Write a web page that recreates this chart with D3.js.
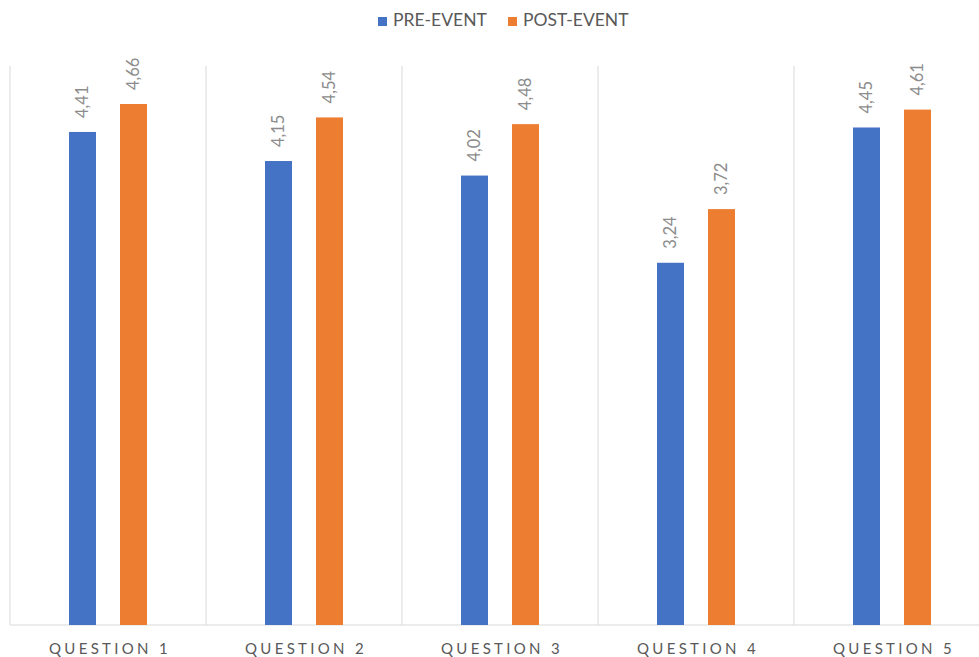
<!DOCTYPE html>
<html>
<head>
<meta charset="utf-8">
<title>Pre/Post event</title>
<script src="https://d3js.org/d3.v7.min.js"></script>
<style>
  body { margin: 0; padding: 0; background: #fff; }
  text { font-family: Lato, "Open Sans", sans-serif; }
</style>
</head>
<body>
<div id="chart"></div>
<script>
var questions = ["QUESTION 1", "QUESTION 2", "QUESTION 3", "QUESTION 4", "QUESTION 5"];
var seriesNames = ["PRE-EVENT", "POST-EVENT"];
var preValues = [4.41, 4.15, 4.02, 3.24, 4.45];
var postValues = [4.66, 4.54, 4.48, 3.72, 4.61];
var colors = ["#4472c4", "#ed7d31"];

var width = 979, height = 657;
var margin = {top: 66, left: 10, bottom: 32};

var svg = d3.select("#chart").append("svg")
  .attr("width", width)
  .attr("height", height);

var x = d3.scaleBand()
  .domain(questions)
  .range([margin.left, margin.left + 196 * questions.length])
  .paddingInner(0);

var xSub = d3.scaleBand()
  .domain(seriesNames)
  .range([59, 137])
  .paddingInner(0.4706);

var y = d3.scaleLinear()
  .domain([0, 5])
  .range([625, 66]);

// vertical gridlines at category boundaries
var bounds = questions.map(function(q) { return x(q); });
bounds.push(x(questions[questions.length - 1]) + x.bandwidth());
svg.append("g").selectAll("line")
  .data(bounds)
  .enter().append("line")
    .attr("x1", function(d) { return d; })
    .attr("x2", function(d) { return d; })
    .attr("y1", 66)
    .attr("y2", 625)
    .attr("stroke", "#d9d9d9")
    .attr("stroke-width", 1);

// baseline
svg.append("line")
  .attr("x1", margin.left).attr("x2", width)
  .attr("y1", 625).attr("y2", 625)
  .attr("stroke", "#d9d9d9");

var rows = [];
questions.forEach(function(q, i) {
  rows.push({q: q, s: seriesNames[0], v: preValues[i], c: colors[0]});
  rows.push({q: q, s: seriesNames[1], v: postValues[i], c: colors[1]});
});

svg.append("g").selectAll("rect")
  .data(rows)
  .enter().append("rect")
    .attr("x", function(d) { return x(d.q) + xSub(d.s); })
    .attr("y", function(d) { return y(d.v); })
    .attr("width", xSub.bandwidth())
    .attr("height", function(d) { return y(0) - y(d.v); })
    .attr("fill", function(d) { return d.c; });

// value labels, rotated
svg.append("g").selectAll("text")
  .data(rows)
  .enter().append("text")
    .attr("transform", function(d) {
      var cx = x(d.q) + xSub(d.s) + xSub.bandwidth() / 2 + 1;
      var cy = y(d.v) - 14;
      return "translate(" + cx + "," + cy + ") rotate(-90)";
    })
    .attr("text-anchor", "start")
    .attr("dominant-baseline", "middle")
    .attr("fill", "#8c8c8c")
    .style("font-size", "16.5px")
    .text(function(d) { return d.v.toFixed(2).replace(".", ","); });

// category labels
svg.append("g").selectAll("text")
  .data(questions)
  .enter().append("text")
    .attr("x", function(d) { return x(d) + x.bandwidth() / 2 + 2; })
    .attr("y", 654)
    .attr("text-anchor", "middle")
    .attr("fill", "#595959")
    .style("font-size", "15px")
    .style("letter-spacing", "3.3px")
    .text(function(d) { return d; });

// legend
var legendX = [378, 508];
var legend = svg.append("g").selectAll("g")
  .data(seriesNames)
  .enter().append("g")
    .attr("transform", function(d, i) { return "translate(" + legendX[i] + ",17)"; });
legend.append("rect")
  .attr("width", 9).attr("height", 9)
  .attr("fill", function(d, i) { return colors[i]; });
legend.append("text")
  .attr("x", 15).attr("y", 5)
  .attr("dominant-baseline", "middle")
  .attr("fill", "#595959")
  .style("font-size", "17.5px")
  .text(function(d) { return d; });
</script>
</body>
</html>
